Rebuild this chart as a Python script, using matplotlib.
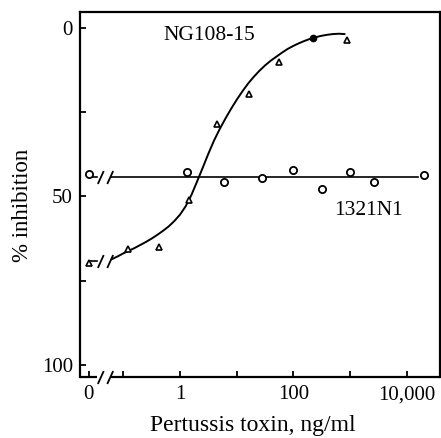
import numpy as np
import matplotlib
matplotlib.use("Agg")
import matplotlib.pyplot as plt
from matplotlib.path import Path

plt.rcParams['font.family'] = ['Liberation Serif', 'DejaVu Serif']

# ---- data ----
# x = 0 means "no toxin" (plotted left of the axis break)
ng_x = [0, 0.12, 0.43, 1.44, 4.5, 16.5, 56, 222, 890]
ng_y = [69.7, 65.6, 65.0, 51.0, 28.5, 19.6, 10.1, 3.0, 3.6]
ng_filled = [False, False, False, False, False, False, False, True, False]

ln_x = [0, 1.33, 6.0, 28, 98, 318, 1000, 2660, 20000]
ln_y = [43.3, 42.7, 45.7, 44.5, 42.1, 47.8, 42.7, 45.7, 43.6]
ln_mean = 44.1

# hand-drawn fitted curve for NG108-15 (x as log10 ng/ml)
curve_logx = [-1.2, -1.1, -1.0, -0.9, -0.8, -0.7, -0.6, -0.5, -0.4, -0.3, -0.2,
              -0.1, 0.0, 0.1, 0.2, 0.3, 0.4, 0.5, 0.6, 0.7, 0.8, 0.9, 1.0, 1.1,
              1.2, 1.3, 1.4, 1.5, 1.6, 1.7, 1.8, 1.9, 2.0, 2.1, 2.2, 2.3, 2.4,
              2.5, 2.6, 2.7, 2.8, 2.9]
curve_y = [68.6, 67.8, 66.9, 66.1, 65.3, 64.4, 63.5, 62.5, 61.4, 60.2, 58.9,
           57.3, 55.4, 52.9, 49.6, 45.6, 41.5, 37.3, 33.4, 30.0, 26.9, 24.0,
           21.3, 18.8, 16.5, 14.5, 12.7, 11.1, 9.7, 8.5, 7.3, 6.2, 5.3, 4.5,
           3.8, 3.2, 2.7, 2.3, 2.0, 1.8, 1.7, 1.8]

x_ticks = [0, 0.1, 1, 10, 100, 1000, 10000]
x_ticklabels = ["0", "", "1", "", "100", "", "10,000"]
y_ticks = [0, 25, 50, 75, 100]
y_ticklabels = ["0", "", "50", "", "100"]

ZERO = 10 ** -1.61          # position used for the "0" dose
BREAK_L, BREAK_R = 10 ** -1.47, 10 ** -1.22   # gap of the axis break
BREAK_C = 10 ** -1.33

def pos(v):
    return ZERO if v == 0 else v

fig = plt.figure(figsize=(4.41, 4.38), dpi=100)
ax = fig.add_axes([80 / 441, 1 - 377 / 438, 360 / 441, 365 / 438])
ax.set_xscale('log')
ax.set_xlim(10 ** -1.764, 10 ** 4.585)
ax.set_ylim(103.6, -4.75)

lw_sp = 1.6
for s in ['top', 'right', 'left']:
    ax.spines[s].set_linewidth(lw_sp)
ax.spines['bottom'].set_visible(False)
# broken bottom axis
xt = ax.get_xaxis_transform()
ax.plot([10 ** -1.764, BREAK_L], [0, 0], color='black', lw=lw_sp, transform=xt,
        clip_on=False, solid_capstyle='butt')
ax.plot([BREAK_R, 10 ** 4.585], [0, 0], color='black', lw=lw_sp, transform=xt,
        clip_on=False, solid_capstyle='butt')

brk = Path([(-2.6, -2.2), (-0.6, 2.2), (0.6, -2.2), (2.6, 2.2)],
           [Path.MOVETO, Path.LINETO, Path.MOVETO, Path.LINETO])
ax.plot([BREAK_C], [0], transform=xt, marker=brk, markersize=11, mew=1.3,
        color='black', mfc='none', linestyle='none', clip_on=False)

# ---- 1321N1 ----
ax.plot([ZERO, BREAK_L], [ln_mean, ln_mean], color='black', lw=1.2)
ax.plot([BREAK_R, 10 ** 4.2], [ln_mean, ln_mean], color='black', lw=1.2)
ax.plot([BREAK_C], [ln_mean], marker=brk, markersize=11, mew=1.3,
        color='black', mfc='none', linestyle='none')
ax.plot([pos(v) for v in ln_x], ln_y, linestyle='none', marker='o',
        markersize=5.2, mfc='white', mec='black', mew=1.3, zorder=3)

# ---- NG108-15 ----
ng_zero_y = 69.3
ax.plot([ZERO, BREAK_L], [ng_zero_y, ng_zero_y], color='black', lw=1.2)
ax.plot([BREAK_C], [ng_zero_y], marker=brk, markersize=11, mew=1.3,
        color='black', mfc='none', linestyle='none')
ax.plot([10 ** v for v in curve_logx], curve_y, color='black', lw=1.4,
        solid_joinstyle='round')
for xv, yv, f in zip(ng_x, ng_y, ng_filled):
    if f:
        ax.plot([pos(xv)], [yv], linestyle='none', marker='o', markersize=4.5,
                mfc='black', mec='black', zorder=3)
    else:
        ax.plot([pos(xv)], [yv], linestyle='none', marker='^', markersize=4.5,
                mfc='white', mec='black', mew=1.2, zorder=3)

ax.text(0.5, 2.1, "NG108-15", fontsize=15.5, ha='left', va='center')
ax.text(2090, 54.3, "1321N1", fontsize=15.5, ha='center', va='center')

ax.set_xticks([pos(v) for v in x_ticks])
ax.set_xticklabels(x_ticklabels)
ax.minorticks_off()
ax.set_yticks(y_ticks)
ax.set_yticklabels(y_ticklabels)
ax.tick_params(direction='in', length=4, width=1.3, labelsize=15, pad=5)
ax.tick_params(axis='x', pad=6)

ax.set_xlabel("Pertussis toxin, ng/ml", fontsize=17)
ax.set_ylabel("% inhibition", fontsize=16.5)
ax.xaxis.set_label_coords(0.48, -0.103)
ax.yaxis.set_label_coords(-0.13, 0.47)

fig.savefig("out.png", dpi=100)
